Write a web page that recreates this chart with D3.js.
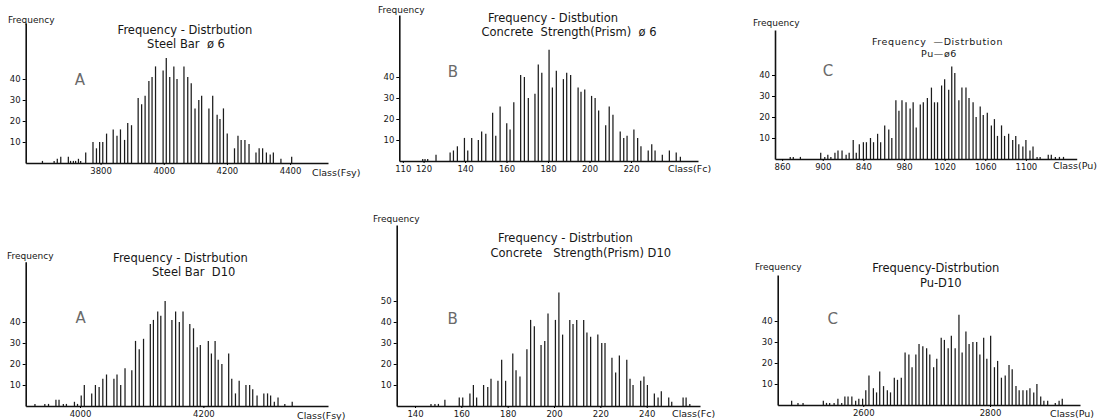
<!DOCTYPE html>
<html>
<head>
<meta charset="utf-8">
<script src="https://cdn.jsdelivr.net/npm/d3@7"></script>
<style>
    body { margin: 0; background: #fff; }
    svg text { font-family: "DejaVu Sans", sans-serif; fill: #161616; white-space: pre; }
</style>
</head>
<body>
<svg id="chart" width="1105" height="420"></svg>
<script>
'use strict';

// A - steel bar ø6 (Fsy)
var steel6Class = [3616,3653,3663,3674,3698,3705,3714,3721,3730,3737,3753,3776,3787,3797,3807,3819,3840,3852,3863,3876,
    3886,3898,3919,3930,3941,3953,3963,3974,3998,4008,4019,4032,4042,4064,4076,4087,4099,4111,4120,4143,
    4155,4169,4178,4189,4201,4224,4235,4245,4257,4270,4292,4302,4313,4325,4337,4347,4371,4405];
var steel6Freq = [1,1,2,3,3,1,1,1,2,1,5,10,7,10,10,14,16,13,16,11,
    19,18,31,28,32,39,41,46,44,50,41,46,40,46,41,38,26,30,32,26,
    32,23,21,26,14,7,13,11,11,9,5,7,7,5,4,5,2,3];

// B - concrete strength (prism) ø6 (Fc)
var concrete6Class = [119.6,120.7,122,126,132.8,134.4,136.3,139.7,141.3,143.2,146.4,148,150,153.3,154.8,156.9,160.1,161.7,163.5,166.8,
    168.6,170.5,173.7,175.3,177,180.5,182.1,184,187.4,189,190.9,194.5,195.9,197.7,201,202.7,204.4,207.8,209.5,211.3,
    214.8,216.5,218.1,221.4,223.2,224.8,228.3,230,231.6,235.1,238.5,241.8,243.8];
var concrete6Freq = [1,1,1,3,4,5,7,11,5,11,10,14,13,23,12,26,18,15,28,41,
    40,30,32,46,42,53,35,43,39,42,41,35,33,34,31,30,24,17,26,22,
    14,11,12,15,11,7,5,8,5,3,5,4,2];

// C - Pu ø6
var pu6Class = [868,871,878,898,902,905,908,912,915,919,923,926,930,933,936,940,943,947,950,954,
    957,961,965,968,972,975,978,982,986,989,992,996,999,1003,1007,1010,1013,1017,1020,1024,
    1027,1030,1034,1037,1041,1044,1048,1051,1055,1058,1062,1066,1069,1072,1076,1079,1083,1087,1090,1093,
    1097,1100,1104,1107,1111,1114,1122,1125,1129,1133,1137];
var pu6Freq = [1,1,1,3,1,2,1,3,4,4,2,3,9,3,7,8,8,10,8,12,
    8,16,14,10,28,23,28,27,24,27,15,26,27,29,34,27,27,35,38,33,
    44,41,28,34,34,29,27,20,25,21,22,16,19,11,16,11,12,9,11,7,
    6,9,4,6,1,1,2,2,1,1,1];

// A - steel bar D10
var steel10Class = [3927,3943,3949,3961,3966,3973,3978,3991,3996,4002,4007,4019,4025,4031,4037,4043,4055,4060,4066,4073,
    4084,4090,4096,4103,4114,4119,4126,4131,4138,4149,4155,4161,4167,4178,4184,4190,4195,4208,4213,4219,
    4224,4230,4241,4246,4252,4258,4269,4275,4280,4287,4298,4304,4309,4315,4321,4332,4344];
var steel10Freq = [1,1,1,3,3,1,1,2,1,5,10,6,10,9,13,15,13,15,10,18,
    17,31,27,32,39,41,45,43,50,41,45,40,45,39,37,28,29,31,25,31,
    22,20,25,13,6,12,10,10,8,5,6,6,5,2,4,1,2];

// B - concrete strength (prism) D10
var concrete10Class = [146.9,148.6,150.1,152.9,159.1,160.6,163.7,165.2,166.6,169.6,171.4,172.8,175.8,177.4,179.1,182.2,183.6,185.3,188.3,189.9,
    191.5,194.4,196,197.4,200.6,202.1,203.7,206.8,208.2,209.8,212.8,214.2,215.8,218.9,220.6,222,225,226.6,228.2,231.4,
    232.8,234.1,237.4,238.8,240.3,243.3,244.9,246.3,249.5,250.8,255.7,257,258.6];
var concrete10Freq = [1,1,1,3,4,4,6,10,4,10,9,13,12,22,12,25,17,14,27,41,
    38,29,31,44,41,54,34,41,39,41,41,35,33,34,30,30,23,16,24,22,
    13,10,12,14,10,6,4,7,4,2,4,4,1];

// C - Pu D10
var pu10Class = [2487,2497,2505,2537,2542,2547,2554,2560,2566,2571,2576,2582,2588,2593,2599,2604,2609,2616,2621,2626,
    2632,2638,2643,2649,2654,2660,2666,2672,2677,2683,2688,2694,2700,2705,2711,2716,2723,2728,2734,2739,
    2745,2751,2756,2762,2767,2773,2779,2784,2790,2795,2801,2807,2812,2818,2824,2830,2835,2841,2846,2852,
    2858,2863,2869,2874,2880,2885,2891,2903,2909,2914];
var pu10Freq = [2,1,1,2,1,1,1,3,1,4,4,4,2,3,3,7,14,8,6,16,
    9,7,6,13,12,13,25,24,18,24,29,28,27,24,18,22,32,31,27,33,
    27,43,25,35,29,30,30,24,32,22,33,18,21,13,14,19,17,9,7,7,
    7,8,6,10,4,2,2,1,2,3];

// tick values and labels
var steel6Ticks = [3800, 4000, 4200, 4400];
var concrete6Ticks = [110, 120, 140, 160, 180, 200, 220];
var pu6Ticks = [860, 900, 940, 980, 1020, 1060, 1100];
var pu6TickLabels = ['860', '900', '840', '980', '1020', '1060', '1100'];
var steel10Ticks = [4000, 4200];
var concrete10Ticks = [140, 160, 180, 200, 220, 240];
var pu10Ticks = [2600, 2800];
var freqTicks = [10, 20, 30, 40];
var freqTicks50 = [10, 20, 30, 40, 50];

var panels = [
    { classes: steel6Class, freq: steel6Freq, xTicks: steel6Ticks, yTicks: freqTicks,
      title: ['Frequency - Distrbution', 'Steel Bar  ø 6'], letter: 'A', xLabel: 'Class(Fsy)',
      left: 25.7, right: 328, base: 163, top: 23, xDomain: [3563, 4520],
      titlePos: [[185, 30], [186, 43.5]], freqPos: [8, 20], classPos: [312, 173], letterPos: [80, 80] },
    { classes: concrete6Class, freq: concrete6Freq, xTicks: concrete6Ticks, yTicks: freqTicks,
      title: ['Frequency - Distbution', 'Concrete  Strength(Prism)  ø 6'], letter: 'B', xLabel: 'Class(Fc)',
      left: 399.3, right: 698, base: 161, top: 15, xDomain: [108.3, 252.3],
      titlePos: [[553, 18], [569, 32]], freqPos: [378, 9.5], classPos: [668, 169], letterPos: [453, 72] },
    { classes: pu6Class, freq: pu6Freq, xTicks: pu6Ticks, xTickLabels: pu6TickLabels, yTicks: freqTicks,
      title: ['Frequency  \u2014Distrbution', 'Pu\u2014ø6'], letter: 'C', xLabel: 'Class(Pu)',
      left: 775, right: 1076.7, base: 159, top: 30, xDomain: [853, 1150],
      titlePos: [[937.5, 42], [939, 53.5]], titleSize: 9.5, titleSpacing: 0.6,
      freqPos: [753, 23], classPos: [1053, 166], letterPos: [828, 71] },
    { classes: steel10Class, freq: steel10Freq, xTicks: steel10Ticks, yTicks: freqTicks,
      title: ['Frequency - Distrbution', 'Steel Bar  D10'], letter: 'A', xLabel: 'Class(Fsy)',
      left: 25.7, right: 328, base: 406, top: 261.7, xDomain: [3912, 4402],
      titlePos: [[180.5, 258.3], [193.7, 271.7]], freqPos: [7, 256], classPos: [297, 415.5], letterPos: [80.7, 318] },
    { classes: concrete10Class, freq: concrete10Freq, xTicks: concrete10Ticks, yTicks: freqTicks50,
      title: ['Frequency - Distrbution', 'Concrete   Strength(Prism) D10'], letter: 'B', xLabel: 'Class(Fc)',
      left: 396.7, right: 700, base: 406, top: 225, xDomain: [132.1, 263],
      titlePos: [[565.5, 238.3], [580.8, 253.3]], freqPos: [373, 219.3], classPos: [672, 413.3], letterPos: [452.7, 318.3] },
    { classes: pu10Class, freq: pu10Freq, xTicks: pu10Ticks, yTicks: freqTicks,
      title: ['Frequency-Distrbution', 'Pu-D10'], letter: 'C', xLabel: 'Class(Pu)',
      left: 777.7, right: 1080, base: 405, top: 275, xDomain: [2465, 2942],
      titlePos: [[935.8, 268.3], [940.8, 282.7]], freqPos: [755, 267.3], classPos: [1050, 413.3], letterPos: [832.7, 318.3] }
];

var svg = d3.select('#chart');
var px10 = 21; // pixels per 10 counts

panels.forEach(function( p ){
    var g = svg.append('g'),
        x = d3.scaleLinear().domain( p.xDomain ).range([ p.left, p.right ]),
        y = d3.scaleLinear().domain([ 0, (p.base - p.top) * 10 / px10 ]).range([ p.base, p.top ]);

    // spikes
    g.selectAll('line.bar').data( p.classes ).enter().append('line')
        .attr('class', 'bar')
        .attr('x1', function( d ){ return x(d); })
        .attr('x2', function( d ){ return x(d); })
        .attr('y1', y(0))
        .attr('y2', function( d, i ){ return y( p.freq[i] ); })
        .attr('stroke', '#1c1c1c')
        .attr('stroke-width', 1.25);

    var xAxis = d3.axisBottom( x ).tickValues( p.xTicks ).tickSize( 2 ).tickSizeOuter( 0 ).tickPadding( 3 );
    if ( p.xTickLabels ){
        xAxis.tickFormat(function( d, i ){ return p.xTickLabels[i]; });
    }else{
        xAxis.tickFormat( d3.format('d') );
    }
    var gx = g.append('g').attr('transform', 'translate(0,' + p.base + ')').call( xAxis );
    gx.select('.domain').attr('stroke', '#111').attr('stroke-width', 1.6);
    gx.selectAll('text').attr('font-size', 8.5).attr('font-family', '"DejaVu Sans", sans-serif').attr('fill', '#161616');

    var gy = g.append('g').attr('transform', 'translate(' + p.left + ',0)')
        .call( d3.axisLeft( y ).tickValues( p.yTicks ).tickSize( 3 ).tickSizeOuter( 0 ).tickPadding( 2 ) );
    gy.select('.domain').attr('stroke', '#111').attr('stroke-width', 1.6);
    gy.selectAll('text').attr('font-size', 8.5).attr('font-family', '"DejaVu Sans", sans-serif').attr('fill', '#161616');

    g.append('text').text('Frequency')
        .attr('x', p.freqPos[0]).attr('y', p.freqPos[1]).attr('dy', '0.35em')
        .attr('font-size', 9);

    g.append('text').text( p.xLabel )
        .attr('x', p.classPos[0]).attr('y', p.classPos[1]).attr('dy', '0.35em')
        .attr('font-size', 9.5);

    p.title.forEach(function( t, i ){
        g.append('text').text( t )
            .attr('x', p.titlePos[i][0]).attr('y', p.titlePos[i][1]).attr('dy', '0.35em')
            .attr('text-anchor', 'middle')
            .attr('font-size', p.titleSize || 11.5)
            .attr('letter-spacing', p.titleSpacing || 0);
    });

    g.append('text').text( p.letter )
        .attr('x', p.letterPos[0]).attr('y', p.letterPos[1]).attr('dy', '0.35em')
        .attr('text-anchor', 'middle')
        .attr('font-size', 15)
        .style('fill', '#6a6a6a');
});
</script>
</body>
</html>
